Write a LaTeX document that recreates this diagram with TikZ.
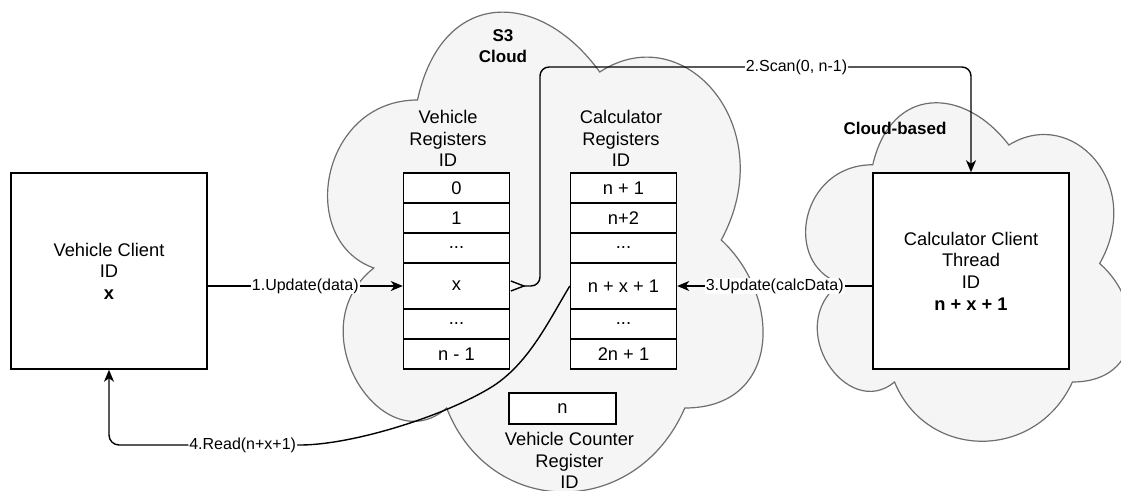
\documentclass[tikz,border=0pt]{standalone}
\usepackage{fontspec}
\setmainfont{Liberation Sans}
\usetikzlibrary{arrows.meta,calc}
\definecolor{cloudfill}{HTML}{F5F5F5}
\definecolor{cloudline}{HTML}{6E6E6E}

% cloud outline in a box with corner (#1,#2), width #3, height #4
\newcommand\drawcloud[4]{%
  \begin{scope}[shift={(#1,#2)},x={(#3pt,0pt)},y={(0pt,-#4pt)}]
    \path[cloudstyle] (0.25,0.25)
      .. controls (0.05,0.25) and (0,0.5) .. (0.16,0.55)
      .. controls (0,0.66) and (0.18,0.9) .. (0.31,0.8)
      .. controls (0.4,1) and (0.7,1) .. (0.8,0.8)
      .. controls (1,0.8) and (1,0.6) .. (0.875,0.5)
      .. controls (1,0.3) and (0.8,0.1) .. (0.625,0.2)
      .. controls (0.5,0.05) and (0.3,0.05) .. (0.25,0.25) -- cycle;
  \end{scope}}

\tikzset{
  cloudstyle/.style={draw=cloudline, fill=cloudfill, line width=1.2pt},
  txt/.style={font=\fontsize{18.3}{21.6}\selectfont, align=center, inner sep=0pt},
  ttl/.style={font=\fontsize{17}{21.5}\selectfont\bfseries, align=center, inner sep=0pt},
  client/.style={draw, line width=1.5pt, fill=white, minimum width=196pt,
    minimum height=196pt, inner sep=0pt, txt},
  cell/.style={draw, line width=1.4pt, fill=white, minimum width=106pt,
    inner sep=0pt, font=\fontsize{18.3}{21.6}\selectfont},
  short/.style={cell, minimum height=30pt},
  tall/.style={cell, minimum height=46pt},
  counter/.style={cell, minimum width=107pt, minimum height=31pt},
  conn/.style={line width=1.4pt},
  arr/.style={conn, -{Stealth[length=12pt,width=10pt,inset=3.5pt]}},
  lbl/.style={fill=white, inner sep=1pt, font=\fontsize{16}{19}\selectfont}
}

\begin{document}
\begin{tikzpicture}[x=1pt,y=-1pt]
  \useasboundingbox (0,0) rectangle (1121,490);
  \clip (0,0) rectangle (1121,490);

  % storage cloud and calculator cloud
  \drawcloud{296}{-40}{486}{560}
  \drawcloud{782}{66}{363}{395}

  \node[ttl] (s3) at (503,46) {S3\\Cloud};
  \node[ttl] (cb) at (895,128) {Cloud-based};

  % clients
  \node[client] (vc) at (109,271) {Vehicle Client\\ID\\\textbf{x}};
  \node[client] (cc) at (971,271) {Calculator Client\\Thread\\ID\\\textbf{n + x + 1}};

  % vehicle registers
  \node[txt] (vh) at (448,138.5) {Vehicle\\Registers\\ID};
  \node[short] (v0) at (456.5,188) {0};
  \node[short] (v1) at (456.5,218) {1};
  \node[short] (v2) at (456.5,248) {...};
  \node[tall]  (vx) at (456.5,286) {x};
  \node[short] (v4) at (456.5,324) {...};
  \node[short] (v5) at (456.5,354) {n - 1};

  % calculator registers
  \node[txt] (ch) at (621,138.5) {Calculator\\Registers\\ID};
  \node[short] (c0) at (623.5,188) {n + 1};
  \node[short] (c1) at (623.5,218) {n+2};
  \node[short] (c2) at (623.5,248) {...};
  \node[tall]  (cx) at (623.5,286) {n + x + 1};
  \node[short] (c4) at (623.5,324) {...};
  \node[short] (c5) at (623.5,354) {2n + 1};

  % vehicle counter register
  \node[counter] (cnt) at (562.5,408.5) {n};
  \node[txt, anchor=north] (cntl) at (569.5,432) {Vehicle Counter\\Register\\ID};

  % connectors
  \coordinate (toprow) at (0,67);
  \coordinate (botrow) at (0,445);

  \draw[arr] (vc.east |- vx.west) -- node[lbl]{1.Update(data)} (vx.west);

  \draw[arr, {Straight Barb[reversed,length=13pt,width=10pt]}-{Stealth[length=12pt,width=10pt,inset=3.5pt]}, rounded corners=9pt]
    (vx.east) -- (540,286) -- (540,67)
    -- node[lbl, pos=0.595]{2.Scan(0, n-1)} (cc.north |- toprow) -- (cc.north);

  \draw[arr] (cc.west |- cx.east) -- node[lbl]{3.Update(calcData)} (cx.east);

  \draw[arr] (cx.west)
    .. controls (548,322) and (528,365) .. (490,388)
    .. controls (440,418) and (350,445) .. (300,445)
    [rounded corners=10pt] -- node[lbl, pos=0.3]{4.Read(n+x+1)} (vc.south |- botrow)
    -- (vc.south);
\end{tikzpicture}
\end{document}
